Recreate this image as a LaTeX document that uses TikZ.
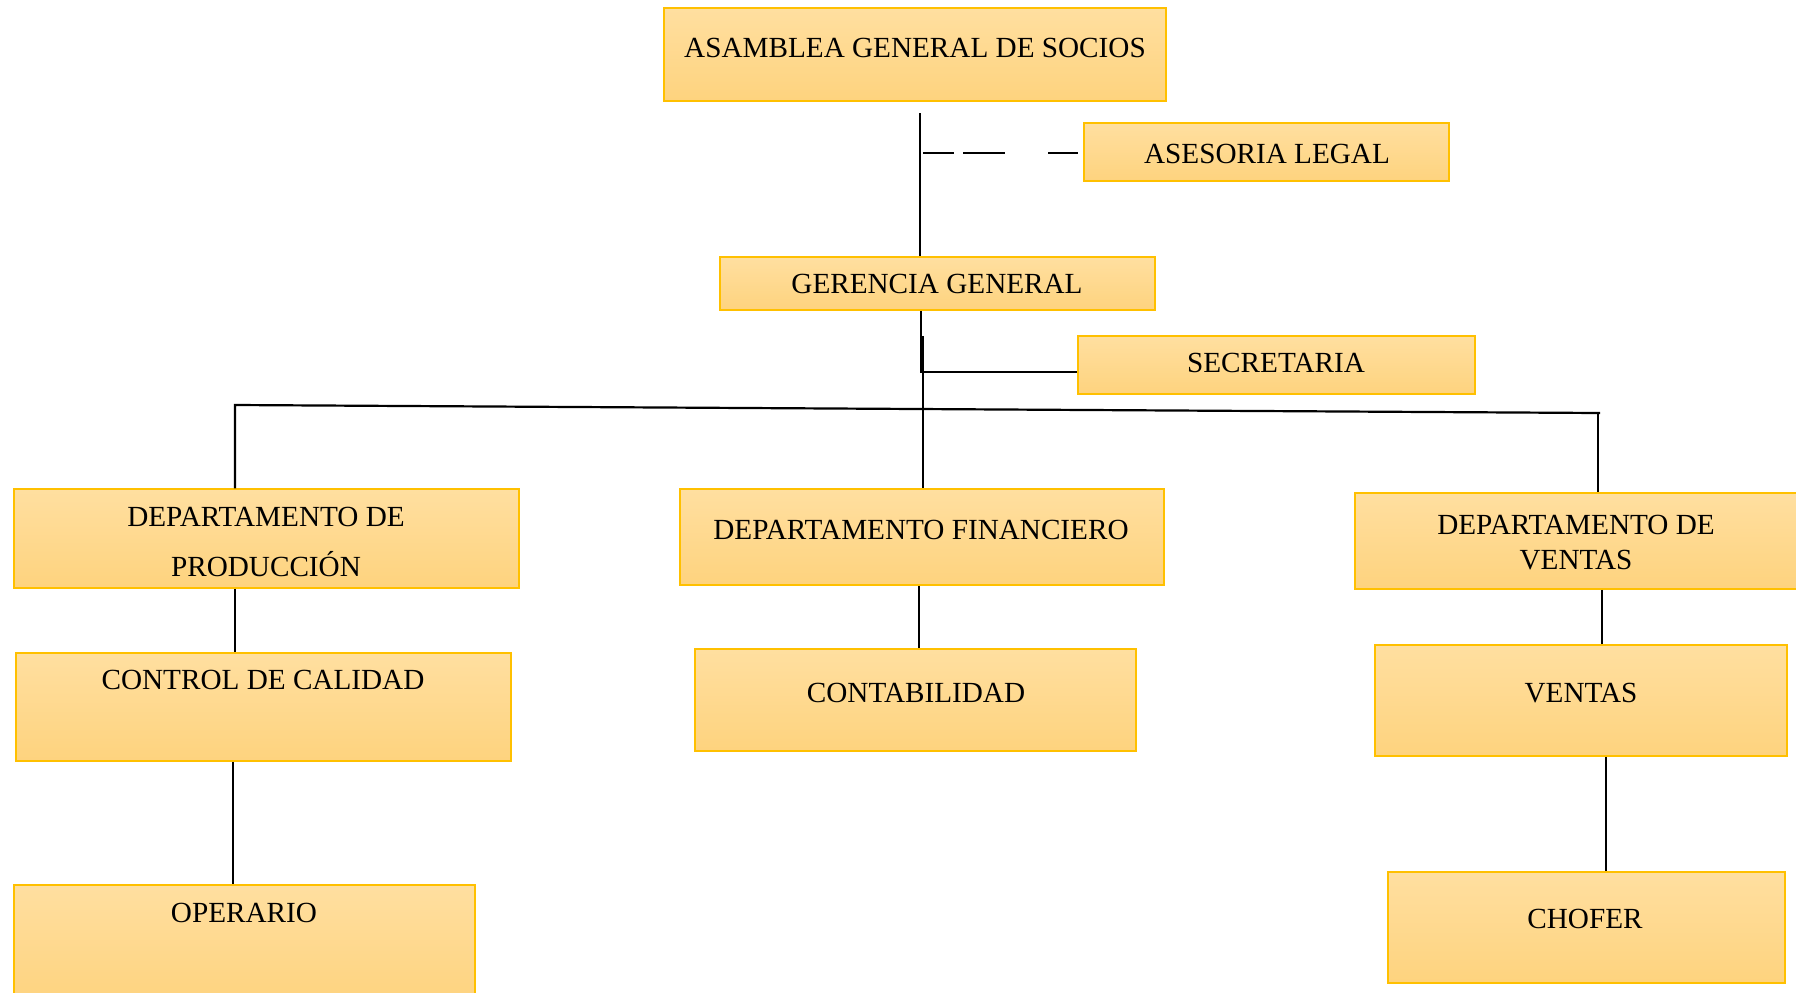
\documentclass[tikz,border=0pt]{standalone}
\usepackage{fontspec}
\setmainfont{Liberation Serif}
\usetikzlibrary{fit}
\definecolor{boxtop}{RGB}{255,223,160}
\definecolor{boxbot}{RGB}{254,211,126}
\definecolor{boxline}{RGB}{255,192,0}
\begin{document}
\begin{tikzpicture}[x=0.5pt,y=-0.5pt,
  orgbox/.style={draw=boxline, line width=0.75pt, top color=boxtop, bottom color=boxbot, inner sep=0pt},
  boxtext/.style={anchor=north, inner sep=0pt, font=\fontsize{14.6}{17.5}\selectfont, text=black, align=center},
  link/.style={line width=1.1pt, draw=black}]
\useasboundingbox (0,0) rectangle (1796,992);

% boxes of the chart
\node[orgbox, fit={(664,8) (1166,101)}] (asamblea) {};
\node[orgbox, fit={(1084,123) (1449,181)}] (asesoria) {};
\node[orgbox, fit={(720,257) (1155,310)}] (gerencia) {};
\node[orgbox, fit={(1078,336) (1475,394)}] (secretaria) {};
\node[orgbox, fit={(14,489) (519,588)}] (produccion) {};
\node[orgbox, fit={(680,489) (1164,585)}] (financiero) {};
\node[orgbox, fit={(1355,493) (1810,589)}] (dventas) {};
\node[orgbox, fit={(16,653) (511,761)}] (calidad) {};
\node[orgbox, fit={(695,649) (1136,751)}] (contabilidad) {};
\node[orgbox, fit={(1375,645) (1787,756)}] (ventas) {};
\node[orgbox, fit={(14,885) (475,1005)}] (operario) {};
\node[orgbox, fit={(1388,872) (1785,983)}] (chofer) {};

% box captions
\node[boxtext] (asamblea-t) at (915,38) {ASAMBLEA GENERAL DE SOCIOS};
\node[boxtext] (asesoria-t) at (1267,144) {ASESORIA LEGAL};
\node[boxtext] (gerencia-t) at (937,274) {GERENCIA GENERAL};
\node[boxtext] (secretaria-t) at (1276,353) {SECRETARIA};
\node[boxtext, font=\fontsize{14.6}{24.7}\selectfont] (produccion-t) at (266,507) {DEPARTAMENTO DE\\PRODUCCIÓN};
\node[boxtext] (financiero-t) at (921,520) {DEPARTAMENTO FINANCIERO};
\node[boxtext, font=\fontsize{14.6}{17.2}\selectfont] (dventas-t) at (1576,515) {DEPARTAMENTO DE\\VENTAS};
\node[boxtext] (calidad-t) at (263,670) {CONTROL DE CALIDAD};
\node[boxtext] (contabilidad-t) at (916,683) {CONTABILIDAD};
\node[boxtext] (ventas-t) at (1581,683) {VENTAS};
\node[boxtext] (operario-t) at (244,903) {OPERARIO};
\node[boxtext] (chofer-t) at (1585,909) {CHOFER};

% upper connectors
\coordinate (a1) at (920,113);
\draw[link] (a1) -- (a1 |- gerencia.north);
\coordinate (d1) at (923,153);
\draw[link, dash pattern=on 15.5pt off 4.5pt on 21pt off 21.5pt on 15pt off 100pt] (d1) -- (d1 -| asesoria.west);
\coordinate (g1) at (921,372);
\draw[link] (gerencia.south -| g1) -- (g1) -- (g1 -| secretaria.west);
\coordinate (g2) at (923,336);
\draw[link] (g2) -- (g2 |- financiero.north);

% department bus
\coordinate (bl) at (235,405);
\coordinate (br) at (1600,413);
\coordinate (br2) at (1598,413);
\draw[link] (bl |- produccion.north) -- (bl) -- (br);
\draw[link] (br2) -- (br2 |- dventas.north);

% lower connectors
\coordinate (p1) at (235,0);
\coordinate (p2) at (233,0);
\coordinate (f1) at (919,0);
\coordinate (v1) at (1602,0);
\coordinate (v2) at (1606,0);
\draw[link] (p1 |- produccion.south) -- (p1 |- calidad.north);
\draw[link] (p2 |- calidad.south) -- (p2 |- operario.north);
\draw[link] (f1 |- financiero.south) -- (f1 |- contabilidad.north);
\draw[link] (v1 |- dventas.south) -- (v1 |- ventas.north);
\draw[link] (v2 |- ventas.south) -- (v2 |- chofer.north);
\end{tikzpicture}
\end{document}
